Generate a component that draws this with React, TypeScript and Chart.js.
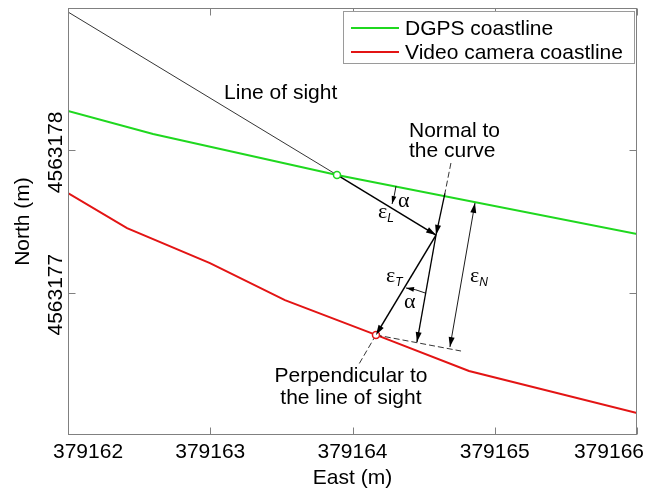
import React, { useEffect, useRef } from 'react';
import { Chart, registerables } from 'chart.js';

Chart.register(...registerables);

// ---------- data ----------
const xRange = [379162, 379166];
const yRange = [4563176, 4563179];
const xTicks = [379162, 379163, 379164, 379165, 379166];
const yTicks = [4563177, 4563178];

const dgpsX = [379162.0, 379162.598, 379163.891, 379166.0];
const dgpsY = [4563178.276, 4563178.115, 4563177.827, 4563177.412];

const videoX = [379162.0, 379162.415, 379162.998, 379163.525, 379164.165, 379164.819, 379166.0];
const videoY = [4563177.7, 4563177.454, 4563177.208, 4563176.948, 4563176.703, 4563176.45, 4563176.155];

// annotation geometry (data coordinates)
const sightX = [379162.0, 379163.891];
const sightY = [4563178.972, 4563177.827];
const errLX = [379163.891, 379164.587];
const errLY = [4563177.827, 4563177.405];
const errTX = [379164.587, 379164.165];
const errTY = [4563177.405, 4563176.703];
const normalDashX = [379164.692, 379164.65];
const normalDashY = [4563177.911, 4563177.7];
const normalInX = [379164.65, 379164.587];
const normalInY = [4563177.7, 4563177.405];
const normalOutX = [379164.587, 379164.453];
const normalOutY = [4563177.405, 4563176.653];
const errNX = [379164.861, 379164.685];
const errNY = [4563177.63, 4563176.618];
const tangentX = [379164.165, 379164.763];
const tangentY = [4563176.703, 4563176.59];
const perpX = [379164.165, 379164.046];
const perpY = [4563176.703, 4563176.499];
const alpha1X = [379164.306, 379164.294, 379164.278];
const alpha1Y = [4563177.749, 4563177.685, 4563177.623];
const alpha2X = [379164.51, 379164.445, 379164.376];
const alpha2Y = [4563176.998, 4563177.02, 4563177.033];

const legendLabels = ['DGPS coastline', 'Video camera coastline'];
const xTitle = 'East (m)';
const yTitle = 'North (m)';

// text annotations anchored in data coordinates
const textNotes = [
  { text: 'Line of sight', x: 379163.097, y: 4563178.361, align: 'left' },
  { text: 'Normal to', x: 379164.397, y: 4563178.094, align: 'left' },
  { text: 'the curve', x: 379164.397, y: 4563177.953, align: 'left' },
  { text: 'Perpendicular to', x: 379163.989, y: 4563176.372, align: 'center' },
  { text: 'the line of sight', x: 379163.989, y: 4563176.218, align: 'center' },
];
const greekNotes = [
  { text: 'ε', sub: 'L', x: 379164.179, y: 4563177.525 },
  { text: 'α', sub: '', x: 379164.32, y: 4563177.602 },
  { text: 'ε', sub: 'T', x: 379164.236, y: 4563177.075 },
  { text: 'α', sub: '', x: 379164.362, y: 4563176.892 },
  { text: 'ε', sub: 'N', x: 379164.826, y: 4563177.075 },
];

// ---------- styles ----------
const GREEN = '#1fd81f';
const RED = '#e31414';
const FONT = '"Liberation Sans", Arial, Helvetica, sans-serif';
const GREEK = '"Liberation Serif", "Times New Roman", serif';

type Seg = { xs: number[]; ys: number[]; width: number; dash?: number[]; arrows?: 'end' | 'both'; head?: number };

const segments: Seg[] = [
  { xs: sightX, ys: sightY, width: 0.8 },
  { xs: errLX, ys: errLY, width: 1.5, arrows: 'end', head: 10 },
  { xs: errTX, ys: errTY, width: 1.5, arrows: 'end', head: 10 },
  { xs: normalDashX, ys: normalDashY, width: 0.8, dash: [6, 3] },
  { xs: normalInX, ys: normalInY, width: 1.3, arrows: 'end', head: 10 },
  { xs: normalOutX, ys: normalOutY, width: 1.3, arrows: 'end', head: 10 },
  { xs: errNX, ys: errNY, width: 0.9, arrows: 'both', head: 10 },
  { xs: tangentX, ys: tangentY, width: 0.8, dash: [6, 3] },
  { xs: perpX, ys: perpY, width: 0.8, dash: [6, 3] },
  { xs: alpha1X, ys: alpha1Y, width: 0.9, arrows: 'end', head: 8 },
  { xs: alpha2X, ys: alpha2Y, width: 0.9, arrows: 'end', head: 8 },
];

const pts = (xs: number[], ys: number[]) => xs.map((x, i) => ({ x, y: ys[i] }));

function arrowHead(ctx: CanvasRenderingContext2D, tx: number, ty: number, fx: number, fy: number, len: number) {
  const ang = Math.atan2(ty - fy, tx - fx);
  const w = len * 0.3;
  const bx = tx - len * Math.cos(ang);
  const by = ty - len * Math.sin(ang);
  ctx.beginPath();
  ctx.moveTo(tx, ty);
  ctx.lineTo(bx - w * Math.sin(ang), by + w * Math.cos(ang));
  ctx.lineTo(bx + w * Math.sin(ang), by - w * Math.cos(ang));
  ctx.closePath();
  ctx.fill();
}

const overlay = {
  id: 'overlay',
  afterDatasetsDraw(chart: any) {
    const { ctx, chartArea: a, scales } = chart;
    const sx = scales.x;
    const sy = scales.y;
    ctx.save();

    // arrowheads
    ctx.fillStyle = '#000';
    for (const s of segments) {
      if (!s.arrows) continue;
      const px = s.xs.map((v) => sx.getPixelForValue(v));
      const py = s.ys.map((v) => sy.getPixelForValue(v));
      const n = px.length;
      arrowHead(ctx, px[n - 1], py[n - 1], px[n - 2], py[n - 2], s.head || 10);
      if (s.arrows === 'both') arrowHead(ctx, px[0], py[0], px[1], py[1], s.head || 10);
    }

    // axes box
    const L = Math.round(a.left) + 0.5;
    const R = Math.round(a.right) - 0.5;
    const T = Math.round(a.top) + 0.5;
    const B = Math.round(a.bottom) - 0.5;
    ctx.strokeStyle = '#808080';
    ctx.lineWidth = 1;
    ctx.strokeRect(L, T, R - L, B - T);

    // inward ticks
    const tl = 7;
    ctx.beginPath();
    for (const t of xTicks) {
      const p = Math.round(sx.getPixelForValue(t)) + 0.5;
      ctx.moveTo(p, B); ctx.lineTo(p, B - tl);
      ctx.moveTo(p, T); ctx.lineTo(p, T + tl);
    }
    for (const t of yTicks) {
      const p = Math.round(sy.getPixelForValue(t)) + 0.5;
      ctx.moveTo(L, p); ctx.lineTo(L + tl, p);
      ctx.moveTo(R, p); ctx.lineTo(R - tl, p);
    }
    ctx.stroke();

    // tick labels
    ctx.fillStyle = '#000';
    ctx.font = `21px ${FONT}`;
    ctx.textBaseline = 'alphabetic';
    ctx.textAlign = 'center';
    const W = chart.width;
    for (const t of xTicks) {
      const label = String(t);
      const w = ctx.measureText(label).width;
      let c = sx.getPixelForValue(t);
      c = Math.max(a.left - 15 + w / 2, Math.min(W - 2 - w / 2, c));
      ctx.fillText(label, c, a.bottom + 23);
    }
    for (const t of yTicks) {
      const p = sy.getPixelForValue(t);
      ctx.save();
      ctx.translate(a.left - 6, p + 2);
      ctx.rotate(-Math.PI / 2);
      ctx.fillText(String(t), 0, 0);
      ctx.restore();
    }

    // axis titles
    ctx.fillText(xTitle, (a.left + a.right) / 2, a.bottom + 49);
    ctx.save();
    ctx.translate(28.5, (a.top + a.bottom) / 2);
    ctx.rotate(-Math.PI / 2);
    ctx.fillText(yTitle, 0, 0);
    ctx.restore();

    // annotation texts
    for (const n of textNotes) {
      ctx.textAlign = n.align as CanvasTextAlign;
      ctx.fillText(n.text, sx.getPixelForValue(n.x), sy.getPixelForValue(n.y));
    }
    ctx.textAlign = 'left';
    for (const g of greekNotes) {
      const gx = sx.getPixelForValue(g.x);
      const gy = sy.getPixelForValue(g.y);
      ctx.font = `22px ${GREEK}`;
      ctx.fillText(g.text, gx, gy);
      if (g.sub) {
        const w = ctx.measureText(g.text).width;
        ctx.font = `italic 12px ${FONT}`;
        ctx.fillText(g.sub, gx + w, gy + 4);
      }
    }

    // legend
    const lx = a.right - 3 - 291;
    const ly = a.top + 3;
    ctx.fillStyle = '#fff';
    ctx.fillRect(Math.round(lx) + 0.5, Math.round(ly) + 0.5, 291, 52);
    ctx.strokeStyle = '#9a9a9a';
    ctx.strokeRect(Math.round(lx) + 0.5, Math.round(ly) + 0.5, 291, 52);
    const colors = [GREEN, RED];
    ctx.font = `21px ${FONT}`;
    ctx.fillStyle = '#000';
    legendLabels.forEach((lab, i) => {
      const yy = ly + 17 + i * 24;
      ctx.strokeStyle = colors[i];
      ctx.lineWidth = 2;
      ctx.beginPath();
      ctx.moveTo(lx + 8, yy);
      ctx.lineTo(lx + 56, yy);
      ctx.stroke();
      ctx.fillText(lab, lx + 62, yy + 7);
    });

    ctx.restore();
  },
};

export default function App() {
  const ref = useRef<HTMLCanvasElement | null>(null);
  useEffect(() => {
    if (!ref.current) return;
    const datasets: any[] = [
      {
        label: legendLabels[0], data: pts(dgpsX, dgpsY), showLine: true,
        borderColor: GREEN, borderWidth: 2, pointRadius: 0, order: 3,
      },
      {
        label: legendLabels[1], data: pts(videoX, videoY), showLine: true,
        borderColor: RED, borderWidth: 2, pointRadius: 0, order: 3,
      },
      ...segments.map((s) => ({
        data: pts(s.xs, s.ys), showLine: true, borderColor: '#000',
        borderWidth: s.width, borderDash: s.dash || [], pointRadius: 0, order: 2,
      })),
      {
        data: [{ x: dgpsX[2], y: dgpsY[2] }], pointRadius: 3.5, pointBorderWidth: 1.5,
        borderColor: GREEN, backgroundColor: '#fff', order: 0,
      },
      {
        data: [{ x: videoX[4], y: videoY[4] }], pointRadius: 3.5, pointBorderWidth: 1.5,
        borderColor: RED, backgroundColor: '#fff', order: 0,
      },
    ];
    const chart = new Chart(ref.current, {
      type: 'scatter',
      data: { datasets },
      options: {
        animation: false,
        responsive: false,
        devicePixelRatio: 1,
        events: [],
        layout: { padding: { left: 68, top: 8, right: 9, bottom: 58 } },
        scales: {
          x: { type: 'linear', min: xRange[0], max: xRange[1], display: false },
          y: { type: 'linear', min: yRange[0], max: yRange[1], display: false },
        },
        plugins: { legend: { display: false }, tooltip: { enabled: false } },
      },
      plugins: [overlay],
    } as any);
    return () => chart.destroy();
  }, []);
  return (
    <div style={{ position: 'fixed', left: 0, top: 0, width: 646, height: 493, background: '#fff' }}>
      <canvas ref={ref} width={646} height={493} style={{ display: 'block' }} />
    </div>
  );
}
